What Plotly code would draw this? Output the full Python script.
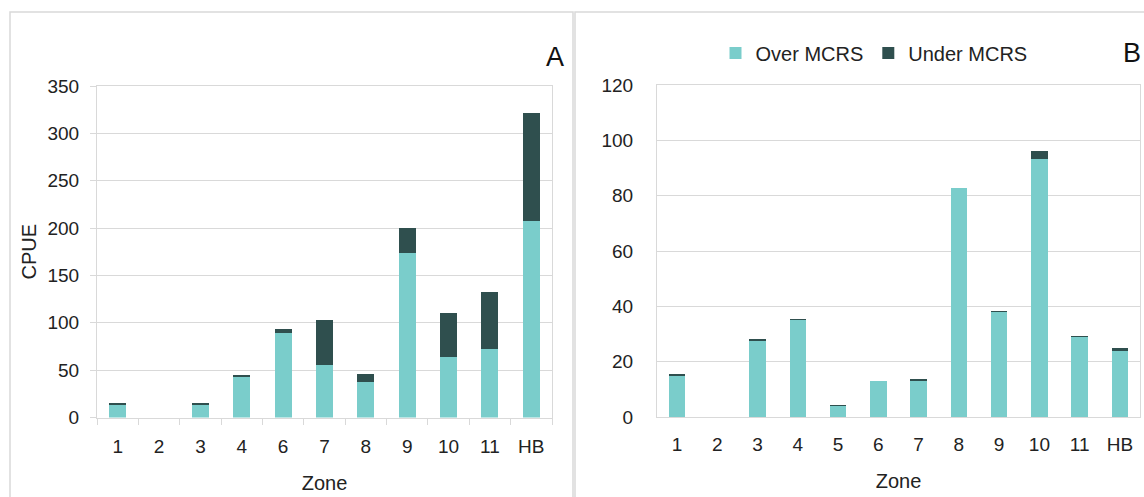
import plotly.graph_objects as go

W, H = 1144, 497

# Panel A data
zones_a = ["1", "2", "3", "4", "6", "7", "8", "9", "10", "11", "HB"]
over_a = [14, 0, 13.5, 43, 89.5, 55.7, 37, 173.4, 64.2, 72, 207.6]
under_a = [0.8, 0, 0.8, 2, 3.5, 46.9, 8.8, 27, 45.8, 61, 113.4]

# Panel B data
zones_b = ["1", "2", "3", "4", "5", "6", "7", "8", "9", "10", "11", "HB"]
over_b = [15.1, 0, 27.6, 35.1, 4.1, 13.0, 13.2, 82.7, 38.1, 93.3, 29.0, 24.2]
under_b = [0.2, 0, 0.3, 0.3, 0.2, 0.0, 0.3, 0.0, 0.2, 2.9, 0.2, 0.6]

TEAL = "#7acdcb"
DARK = "#2f4f4e"
GRID = "#d9d9d9"
FONT = "Liberation Sans"

def px(x):
    return x / W

def py(y):
    return 1 - y / H

fig = go.Figure()
fig.add_trace(go.Bar(x=zones_a, y=over_a, name="Over MCRS", marker=dict(color=TEAL, line=dict(width=0)),
                     xaxis="x", yaxis="y", showlegend=False))
fig.add_trace(go.Bar(x=zones_a, y=under_a, name="Under MCRS", marker=dict(color=DARK, line=dict(width=0)),
                     xaxis="x", yaxis="y", showlegend=False))
fig.add_trace(go.Bar(x=zones_b, y=over_b, name="Over MCRS", marker=dict(color=TEAL, line=dict(width=0)),
                     xaxis="x2", yaxis="y2"))
fig.add_trace(go.Bar(x=zones_b, y=under_b, name="Under MCRS", marker=dict(color=DARK, line=dict(width=0)),
                     xaxis="x2", yaxis="y2"))

tickfont = dict(family=FONT, size=19, color="#222222")
titlefont = dict(family=FONT, size=20, color="#222222")

fig.update_layout(
    width=W, height=H, autosize=False,
    margin=dict(l=0, r=0, t=0, b=0, pad=0, autoexpand=False),
    paper_bgcolor="white", plot_bgcolor="white",
    barmode="stack", bargap=0.59,
    font=dict(family=FONT, color="#222222"),
    xaxis=dict(domain=[px(97), px(552)], anchor="y", type="category", tickfont=tickfont,
               showline=True, linecolor=GRID, mirror=True, showgrid=False,
               ticks="outside", tickson="boundaries", ticklen=6, tickcolor=GRID,
               ticklabelstandoff=12, automargin=False,
               title=dict(text="Zone", font=titlefont, standoff=19)),
    yaxis=dict(domain=[py(417.5), py(86)], anchor="x", range=[0, 350], dtick=50, tickfont=tickfont,
               showline=True, linecolor=GRID, mirror=True, gridcolor=GRID, zeroline=False,
               ticks="outside", ticklen=6, tickcolor=GRID, ticklabelstandoff=7, automargin=False,
               title=dict(text="CPUE", font=titlefont, standoff=5)),
    xaxis2=dict(domain=[px(657), px(1140)], anchor="y2", type="category", tickfont=tickfont,
                showline=True, linecolor=GRID, mirror=True, showgrid=False,
                ticks="", ticklabelstandoff=10, automargin=False,
                title=dict(text="Zone", font=titlefont, standoff=20)),
    yaxis2=dict(domain=[py(417), py(85)], anchor="x2", range=[0, 120], dtick=20, tickfont=tickfont,
                showline=True, linecolor=GRID, mirror=True, gridcolor=GRID, zeroline=False,
                ticks="", ticklabelstandoff=19, automargin=False),
    legend=dict(orientation="h", x=px(874), xanchor="center", y=py(53), yanchor="middle",
                font=dict(family=FONT, size=20, color="#222222"), itemwidth=30,
                traceorder="normal", bgcolor="rgba(0,0,0,0)"),
    shapes=[
        dict(type="rect", xref="paper", yref="paper", x0=px(10), x1=px(573), y0=-0.05, y1=py(12),
             line=dict(color=GRID, width=1.5), layer="below"),
        dict(type="rect", xref="paper", yref="paper", x0=px(575), x1=1.05, y0=-0.05, y1=py(12),
             line=dict(color=GRID, width=1.5), layer="below"),
    ],
    annotations=[
        dict(text="A", x=px(555), y=py(57), xref="paper", yref="paper", showarrow=False,
             xanchor="center", yanchor="middle",
             font=dict(family=FONT, size=27, color="#111111")),
        dict(text="B", x=px(1143), y=py(53), xref="paper", yref="paper", showarrow=False,
             xanchor="right", yanchor="middle",
             font=dict(family=FONT, size=27, color="#111111")),
    ],
)

fig.write_html("out.html", config={"displayModeBar": False},
               post_script="document.body.style.margin='0';document.body.style.overflow='hidden';")
